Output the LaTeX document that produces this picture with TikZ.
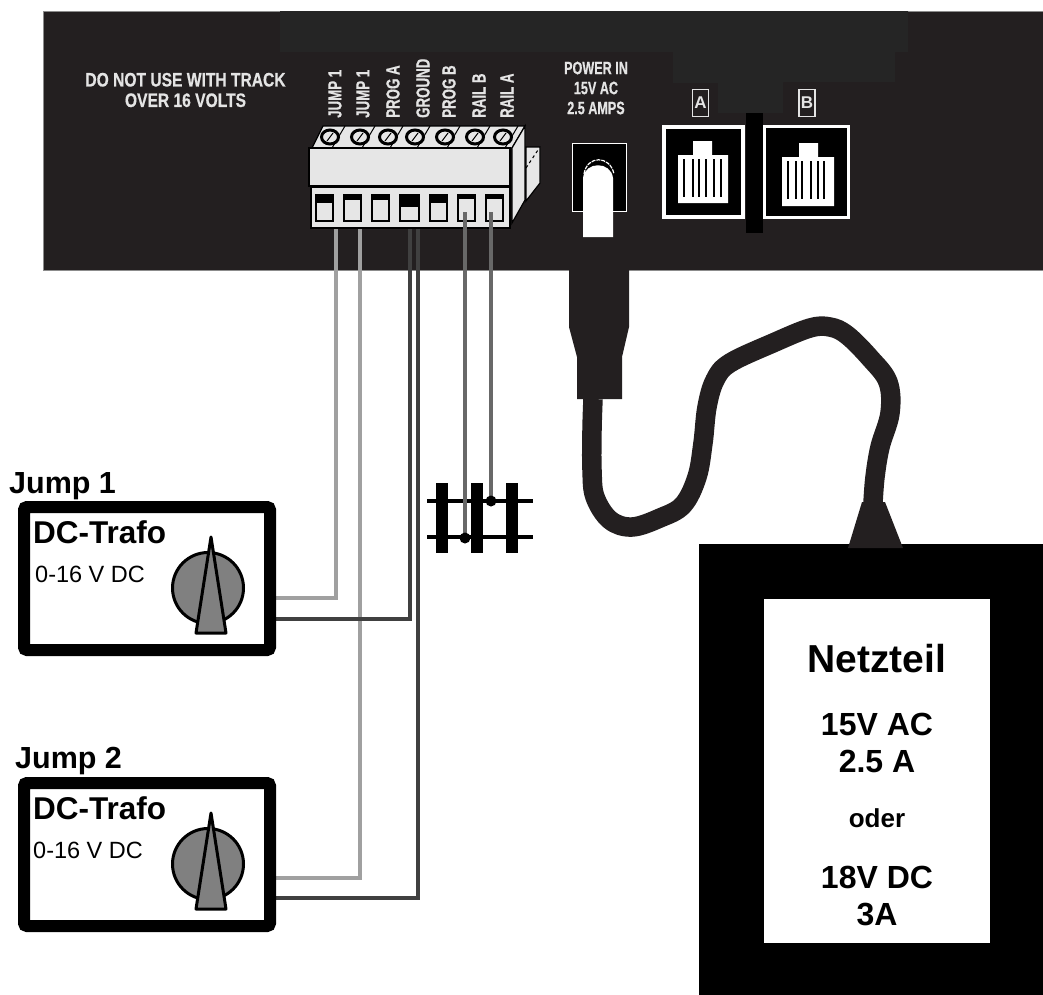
\documentclass[tikz,border=0pt]{standalone}
\usepackage{fontspec}
\setmainfont{Liberation Sans}
\newfontfamily\panelfont[FakeStretch=0.7, BoldFeatures={FakeBold=0.5}]{Liberation Sans}
\newfontfamily\warnfont[FakeStretch=0.8, BoldFeatures={FakeBold=0.5}]{Liberation Sans}
\newcommand{\mysize}[1]{\fontsize{#1}{#1}\selectfont}
\definecolor{panelgray}{HTML}{231F20}
\definecolor{panelpatch}{HTML}{252525}
\definecolor{termgray}{HTML}{E6E6E6}
\definecolor{printwhite}{HTML}{E4E4E4}
\definecolor{wirelight}{HTML}{A0A0A0}
\definecolor{wiremid}{HTML}{686868}
\definecolor{wiredark}{HTML}{404040}
\definecolor{knobgray}{HTML}{808080}
\tikzstyle{label} = [inner sep=0pt, anchor=base west]
\tikzstyle{printed} = [inner sep=0pt, text=printwhite, font=\panelfont\bfseries\mysize{18}]
\tikzstyle{term} = [printed, rotate=90, anchor=west, font=\panelfont\bfseries\mysize{19}]
\tikzstyle{tagbox} = [draw=printwhite, line width=1.2pt, fill=panelgray, inner sep=0pt, minimum width=16pt, minimum height=27pt, text=printwhite, font=\bfseries\mysize{17}]
\tikzstyle{psutext} = [inner sep=0pt, anchor=base, font=\bfseries\mysize{32}]
\tikzset{
    wire/.style={line width=4pt, line join=miter},
    trafobox/.style={draw=black, line width=12pt, rounded corners=3pt, fill=white, minimum width=246pt, minimum height=143pt, inner sep=0pt, anchor=north west},
    knobpart/.style={draw=black, line width=3pt, fill=knobgray, line join=round}
}

\begin{document}
\begin{tikzpicture}[x=1pt, y=-1pt]
        \useasboundingbox (0,0) rectangle (1043,994);

        % back panel
        \node [draw=black!45, line width=.7pt, fill=panelgray, inner sep=0pt, outer sep=0pt, minimum width=1001pt, minimum height=259pt, anchor=north west] (panel) at (43,11) {};
        \fill [panelpatch] (280,11) -- (908,11) -- (908,52) -- (895,52) -- (895,82) -- (783,82) -- (783,113) -- (718,113) -- (718,83) -- (673,83) -- (673,52) -- (280,52) -- cycle;
        \node [printed, align=center, font=\warnfont\bfseries\mysize{19.5}] (warning) at (185.5,90) {DO NOT USE WITH TRACK\\[1pt]OVER 16 VOLTS};

        % wires, below the terminal block
        \coordinate (ta) at (336,229);
        \coordinate (tb) at (360,229);
        \coordinate (tc) at (410,229);
        \coordinate (td) at (418,229);
        \coordinate (te) at (465,212);
        \coordinate (tf) at (491,212);
        \coordinate (ra) at (270,598);
        \coordinate (rb) at (270,619);
        \coordinate (rc) at (270,878);
        \coordinate (rd) at (270,898);
        \coordinate (railb) at (465,538);
        \coordinate (raila) at (491,501);

        % terminal block
        \draw [black, line width=1.2pt, fill=termgray] (312,148) -- (323,126) -- (525,126) -- (512,148) -- cycle;
        \draw [black, line width=1.2pt, fill=termgray] (512,148) -- (525,126) -- (525,200) -- (512,223) -- cycle;
        \draw [black, line width=1.2pt, fill=termgray] (526,147) -- (540,147) -- (540,183) -- (526,201) -- cycle;
        \draw [black, line width=1.2pt, fill=termgray] (309,148) rectangle (510,186);
        \draw [black, line width=1.2pt, fill=termgray] (311,187) rectangle (510,228);
        \draw [black, line width=1pt, dashed] (526,168) -- (538,150);
        \foreach \sx/\lx/\txt in {330/335/JUMP 1, 360/363/JUMP 1, 388/393/PROG A, 415/423/GROUND, 445/449/PROG B, 475/479/RAIL B, 503/507/RAIL A} {
            \draw [black, line width=1pt] (\sx+15,126) -- (\sx+2,148);
            \draw [black, line width=3pt, fill=termgray] (\sx,137) ellipse (8.5pt and 7pt);
            \draw [black, line width=1pt] (\sx-3,141) -- (\sx+3,133);
            \node [term] at (\lx,118) {\txt};
        }
        \foreach \wx/\ww/\wh in {316/17/8, 344/17/5, 372/17/5, 400/19/12, 430/17/8, 458/17/4, 486/17/4} {
            \draw [black, line width=1.2pt, fill=termgray] (\wx,195) rectangle (\wx+\ww,221);
            \fill [black] (\wx,195) rectangle (\wx+\ww,195+\wh);
        }

        % power socket
        \node [draw=white, line width=1.3pt, fill=black, inner sep=0pt, minimum width=54pt, minimum height=68pt, anchor=north west] (jack) at (572,143) {};
        \node [printed, align=center] (powertxt) at (596,88) {POWER IN\\[2pt]15V AC\\[2pt]2.5 AMPS};
        \fill [white] (583,237) -- (583,178) .. controls (585,161) and (611,161) .. (613,178) -- (613,237) -- cycle;
        \draw [white, line width=1.2pt, dash pattern=on 4pt off 1pt] (584,174) .. controls (587,155) and (610,155) .. (614,174);

        % sockets A and B
        \node [draw=white, line width=4pt, fill=black, inner sep=0pt, minimum width=79pt, minimum height=90pt, anchor=north west] (sockA) at (662,125) {};
        \fill [white] (693,141) rectangle (712,155) (678,155) rectangle (728,203);
        \foreach \bx in {684,693,699,706,714,721}
            \fill [black] (\bx-1,159) rectangle (\bx+1,197);
        \node [draw=white, line width=3pt, fill=black, inner sep=0pt, minimum width=84pt, minimum height=91pt, anchor=north west] (sockB) at (763,125) {};
        \fill [white] (799,143) rectangle (818,157) (782,157) rectangle (834,206);
        \foreach \bx in {788,796,802,811,818,824}
            \fill [black] (\bx-1,161) rectangle (\bx+1,199);
        \fill [black] (746,113) rectangle (763,233);
        \node [tagbox] (tagA) at (700.5,103) {A};
        \node [tagbox] (tagB) at (807,103) {B};

        % track piece
        \foreach \tiex in {436,471,506}
            \fill [black] (\tiex,483) rectangle (\tiex+11.5,553);
        \coordinate (traila) at (427,501);
        \coordinate (trailb) at (427,537);
        \draw [black, line width=4pt] (traila) -- ++(106,0);
        \draw [black, line width=4pt] (trailb) -- ++(106,0);

        \draw [wire, wirelight] (ta) |- (ra);
        \draw [wire, wirelight] (tb) |- (rc);
        \draw [wire, wiredark] (tc) |- (rb);
        \draw [wire, wiredark] (td) |- (rd);
        \draw [wire, wiremid] (te) -- (railb);
        \draw [wire, wiremid] (tf) -- (raila);
        \fill [black] (railb) circle (5.5pt);
        \fill [black] (raila) circle (5.5pt);

        % transformers
        \foreach \bname/\by/\txtx in {A/507/35, B/783/33} {
            \node [trafobox] (trafo\bname) at (18,\by-6) {};
            \node [label, font=\bfseries\mysize{31.5}] at (33,\by+36) {DC-Trafo};
            \node [label, font=\mysize{23.5}] at (\txtx,\by+75) {0-16 V DC};
            \draw [knobpart] (208,\by+81) circle (35.5pt);
            \draw [knobpart] (211,\by+30) -- (226,\by+126) -- (196,\by+126) -- cycle;
        }
        \node [label, font=\bfseries\mysize{30.5}] (jump1) at (9,493) {Jump 1};
        \node [label, font=\bfseries\mysize{30.5}] (jump2) at (15,768) {Jump 2};

        % power supply
        \node [fill=black, inner sep=0pt, outer sep=0pt, minimum width=345pt, minimum height=451pt, anchor=north west] (psu) at (699,544) {};
        \node [fill=white, inner sep=0pt, minimum width=226pt, minimum height=344pt, anchor=north west] (psuface) at (764,599) {};
        \node [psutext, font=\bfseries\mysize{39}] (psuname) at (877,672) {Netzteil};
        \node [psutext] (psuac) at (877,735) {15V AC};
        \node [psutext] (psuamp) at (877,772) {2.5 A};
        \node [psutext, font=\bfseries\mysize{26}] (psuor) at (877,827) {oder};
        \node [psutext] (psudc) at (877,888) {18V DC};
        \node [psutext] (psuamps) at (877,925) {3A};

        % mains plug and cable
        \coordinate (plugend) at (593,399);
        \coordinate (footend) at (873,503);
        \fill [panelgray] (569,268) -- (629,268) -- (629,327) -- (622,357) -- (622,399) -- (577,399) -- (577,357) -- (569,327) -- cycle;
        \draw [panelgray, line width=19.5pt, line join=round] plot [smooth, tension=.6] coordinates {(plugend) (592,430) (592,470) (595,497) (610,520) (632,527) (660,518) (683,505) (697,477) (703,443) (707,407) (715,380) (730,363) (773,343) (810,328) (830,327) (847,335) (870,358) (888,382) (890,413) (880,447) (875,477) (footend)};
        \fill [panelgray] (862,502) -- (885,502) -- (903,548) -- (848,548) -- cycle;
    \end{tikzpicture}
\end{document}
